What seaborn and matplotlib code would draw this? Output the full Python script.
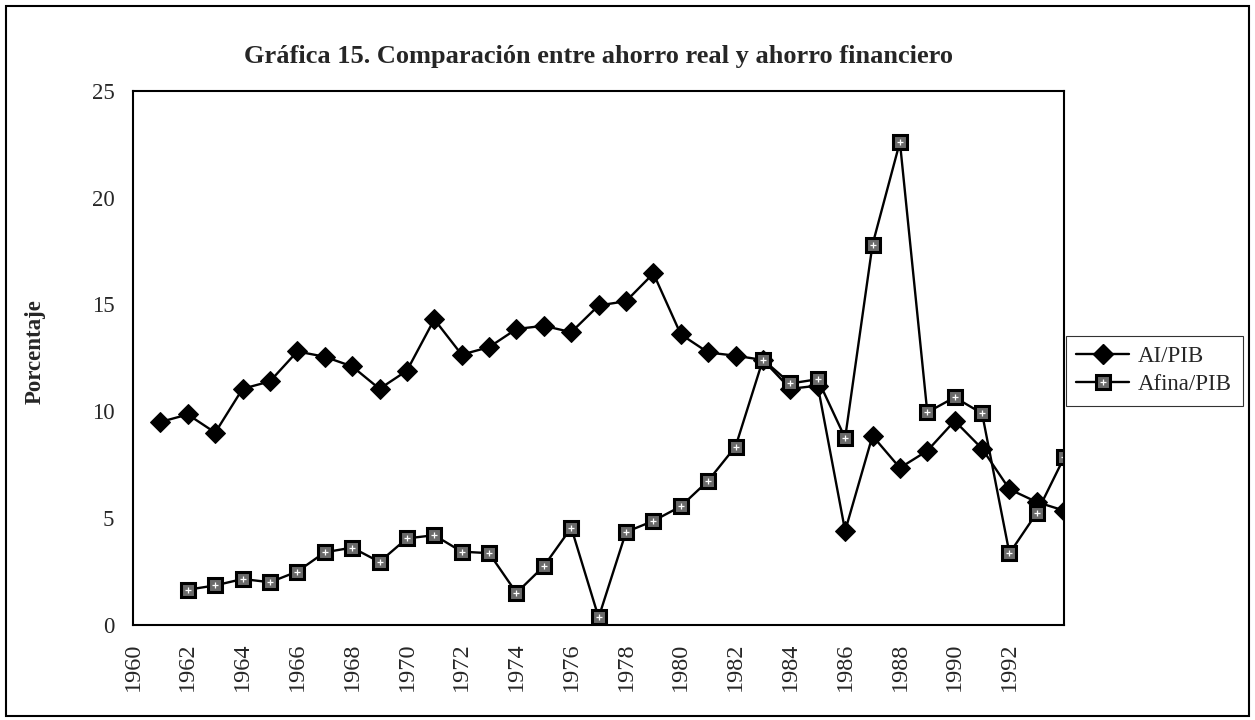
import matplotlib
matplotlib.use('Agg')
import matplotlib.pyplot as plt
import seaborn as sns
from matplotlib.lines import Line2D
from matplotlib.patches import Rectangle
from matplotlib.legend_handler import HandlerTuple

# --- datos ---
years_ai = list(range(1961, 1995))
ai_pib = [9.5, 9.85, 9.0, 11.05, 11.4, 12.8, 12.55, 12.1, 11.05, 11.9,
          14.3, 12.65, 13.0, 13.85, 14.0, 13.7, 14.95, 15.15, 16.45, 13.6,
          12.75, 12.6, 12.4, 11.05, 11.2, 4.4, 8.85, 7.35, 8.15, 9.55,
          8.25, 6.35, 5.75, 5.35]

years_afina = list(range(1962, 1995))
afina_pib = [1.65, 1.85, 2.15, 2.0, 2.5, 3.4, 3.62, 2.95, 4.05, 4.2,
             3.43, 3.36, 1.5, 2.75, 4.55, 0.35, 4.35, 4.87, 5.55, 6.75,
             8.35, 12.42, 11.3, 11.5, 8.75, 17.8, 22.6, 9.95, 10.65, 9.9,
             3.35, 5.25, 7.85]

tick_years = list(range(1960, 1995))
tick_labels = [str(y) if (y % 2 == 0 and y < 1994) else '' for y in tick_years]

title = 'Gráfica 15. Comparación entre ahorro real y ahorro financiero'

# --- estilo ---
sns.set_style("white")
plt.rcParams['font.family'] = ['Liberation Serif', 'DejaVu Serif']

fig = plt.figure(figsize=(12.55, 7.2), dpi=100)
ax = fig.add_axes([0.106, 0.132, 0.742, 0.742])

sq_style = dict(marker='s', markersize=10, markerfacecolor='#6a6a6a',
                markeredgecolor='black', markeredgewidth=2.2)

sns.lineplot(x=years_ai, y=ai_pib, ax=ax, color='black', linewidth=1.7,
             marker='D', markersize=10.5, markeredgecolor='black')
sns.lineplot(x=years_afina, y=afina_pib, ax=ax, color='black', linewidth=1.7,
             **sq_style)
# puntitos blancos del relleno de los cuadros
ax.plot(years_afina, afina_pib, ls='none', marker='+', markersize=5,
        markeredgecolor='white', markeredgewidth=0.9)

ax.set_xlim(1960, 1994)
ax.set_ylim(0, 25)
ax.set_xticks(tick_years)
ax.set_xticklabels(tick_labels, rotation=90)
ax.set_yticks(range(0, 26, 5))
ax.tick_params(axis='both', direction='inout', length=9, width=1,
               color='black')
ax.tick_params(axis='x', labelsize=17.5, pad=8)
ax.tick_params(axis='y', labelsize=16.5, pad=9)
for s in ax.spines.values():
    s.set_color('black')
    s.set_linewidth(1.5)

ax.set_xlabel('')
ax.set_ylabel('Porcentaje', fontsize=16.5, fontweight='bold')
ax.yaxis.set_label_coords(-0.094, 0.511)

fig.text(0.477, 0.921, title, ha='center', va='center',
         fontsize=19, fontweight='bold')

# leyenda
h_ai = Line2D([], [], color='black', lw=1.7, marker='D', markersize=10.5)
h_sq = Line2D([], [], color='black', lw=1.7, **sq_style)
h_dot = Line2D([], [], ls='none', marker='+', markersize=5,
               markeredgecolor='white', markeredgewidth=0.9)
leg = fig.legend([h_ai, (h_sq, h_dot)], ['AI/PIB', 'Afina/PIB'],
                 loc='upper left', bbox_to_anchor=(1066 / 1255, 1 - 336 / 720),
                 bbox_transform=fig.transFigure, fontsize=16.5, frameon=True,
                 fancybox=False, edgecolor='black', handlelength=2.3,
                 handletextpad=0.4, borderpad=0.45, labelspacing=0.3,
                 borderaxespad=0,
                 handler_map={tuple: HandlerTuple(ndivide=1)})
leg.get_frame().set_linewidth(0.8)

# marco exterior
fig.add_artist(Rectangle((0.005, 0.006), 0.99, 0.986, transform=fig.transFigure,
                         fill=False, lw=1.5, ec='black'))

fig.savefig('out.png', dpi=100)
